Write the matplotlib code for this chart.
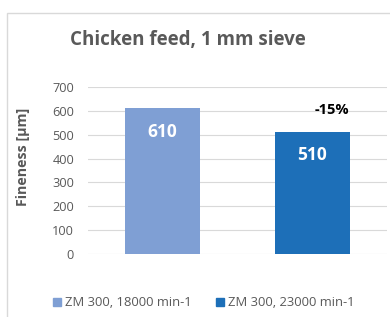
import matplotlib
matplotlib.use("Agg")
import matplotlib.pyplot as plt
from matplotlib.patches import Rectangle

categories = ["ZM 300, 18000 min-1", "ZM 300, 23000 min-1"]
values = [610, 510]
colors = ["#7F9FD4", "#1D6FB8"]
yticks = [0, 100, 200, 300, 400, 500, 600, 700]
change_label = "-15%"

plt.rcParams['font.family'] = ['Open Sans', 'DejaVu Sans']
W, H = 390, 317
fig = plt.figure(figsize=(W/100, H/100), dpi=100)
fig.patch.set_facecolor("white")

# outer frame
fig.add_artist(Rectangle((7/W, -0.1), 1.2, 1 - 13/H + 0.1, transform=fig.transFigure,
                         fill=False, edgecolor="#D9D9D9", linewidth=1.0))

ax = fig.add_axes([88/W, 1 - 254/H, (387-88)/W, (254-87)/H])
x = [0, 1]
bars = ax.bar(x, values, width=0.5, color=colors, zorder=3)
ax.set_xlim(-0.5, 1.5)
ax.set_ylim(0, 700)
ax.set_yticks(yticks)
ax.set_yticklabels([str(t) for t in yticks], fontsize=9.2, color="#595959")
ax.set_xticks([])
for s in ax.spines.values():
    s.set_visible(False)
ax.grid(axis='y', color="#D9D9D9", linewidth=0.8, zorder=0)
ax.tick_params(axis='y', length=0, pad=10)

fig.text(23/W, 1 - 157/H, "Fineness [µm]", rotation=90, ha='center', va='center',
         fontsize=10.3, fontweight='bold', color="#595959")

for xi, v in zip(x, values):
    ax.text(xi, v - 97, str(v), ha='center', va='center', color='white', fontsize=12.5, fontweight='bold')

ax.text(1.13, values[0] - 5, change_label, ha='center', va='center', color='black', fontsize=10.5, fontweight='bold')

fig.text(188/W, 1 - 40/H, "Chicken feed, 1 mm sieve", ha='center', va='center',
         fontsize=13.5, fontweight='bold', color="#595959")

handles = [Rectangle((0, 0), 1, 1, color=c) for c in colors]
fig.legend(handles, categories, loc='center', bbox_to_anchor=(204/W, 1 - 303/H), ncol=2,
           frameon=False, fontsize=9.4, handlelength=0.6, handleheight=0.6, handletextpad=0.3,
           columnspacing=1.9, labelcolor="#595959")

fig.savefig("out.png", dpi=100)
